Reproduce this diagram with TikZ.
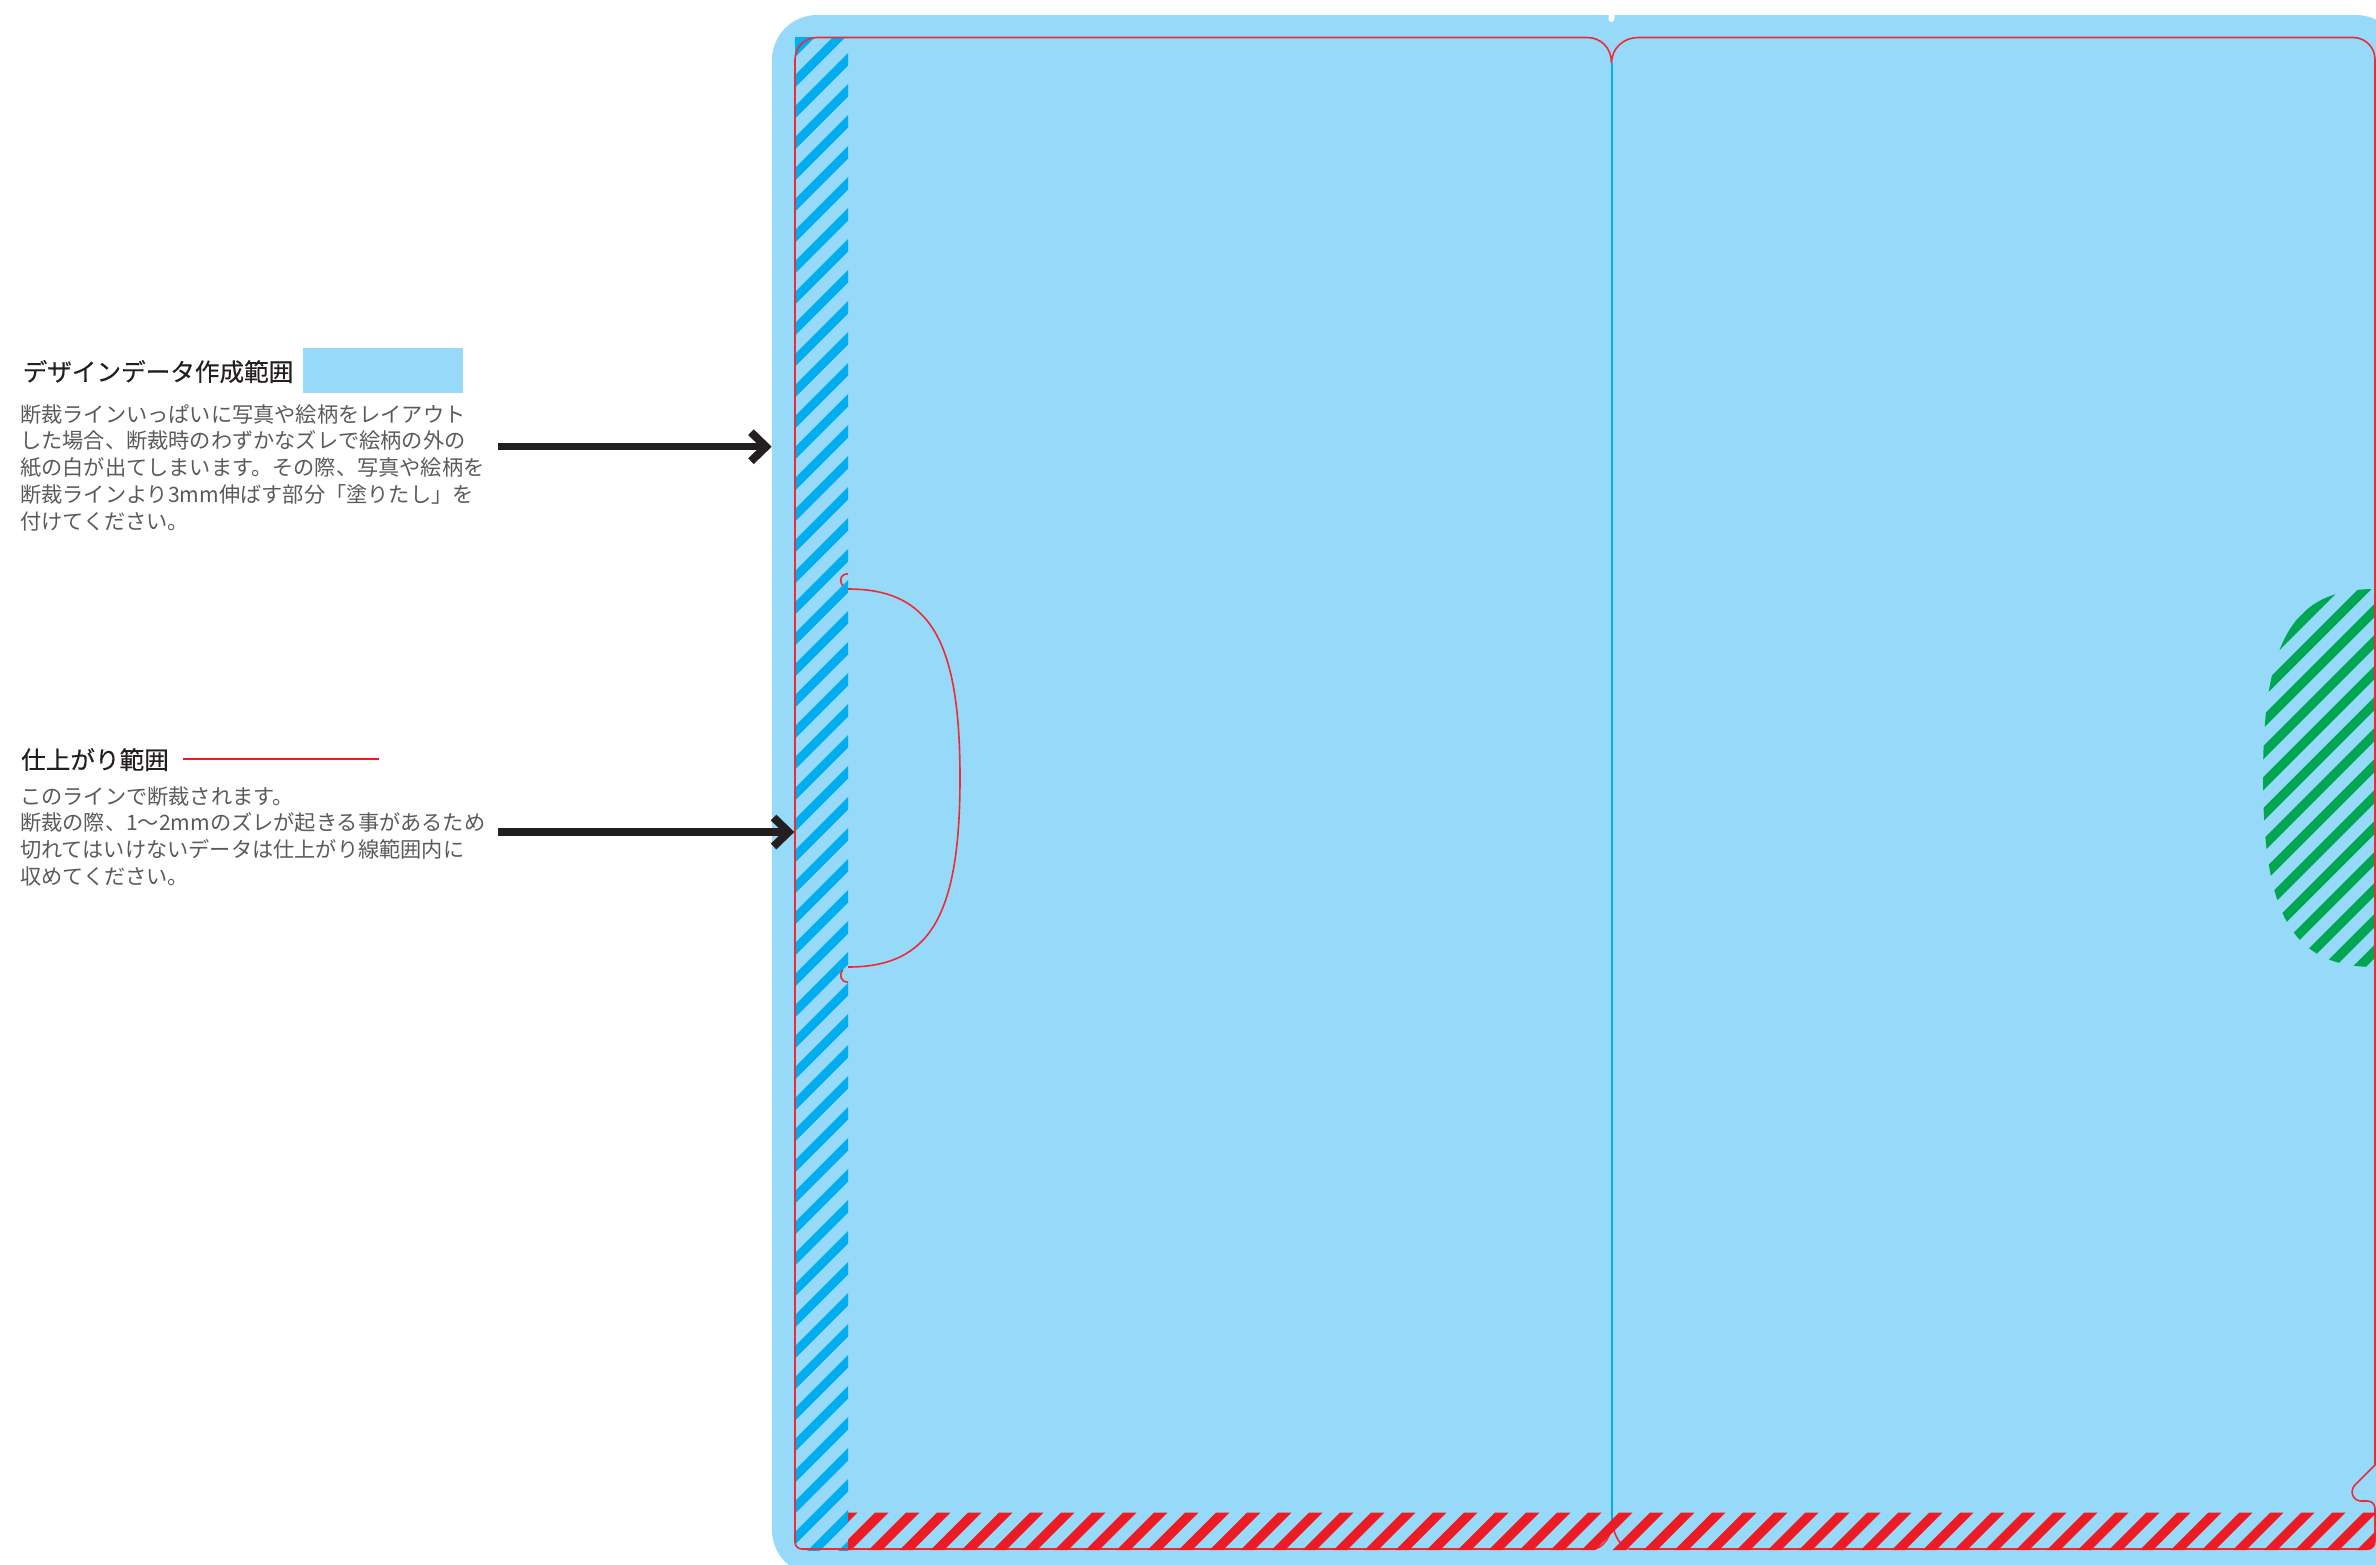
\documentclass[tikz,border=0pt]{standalone}
\usepackage{fontspec}
\usetikzlibrary{arrows.meta}
\newfontfamily\cjk{Noto Sans CJK JP}
\newfontfamily\cjkhead[FakeBold=0.3]{Noto Sans CJK JP}
\definecolor{bleedblue}{HTML}{97D9F8}
\definecolor{cutred}{HTML}{ED2B36}
\definecolor{stripered}{HTML}{ED1C24}
\definecolor{cyanline}{HTML}{00AEEF}
\definecolor{stripegreen}{HTML}{00A651}
\definecolor{inkdark}{HTML}{231F20}
\definecolor{inkbody}{HTML}{5A5A5A}
\tikzset{
  x=1pt,y=-1pt,
  headtext/.style={anchor=base west,inner sep=0pt,text=inkdark,font=\cjkhead\fontsize{24.6}{26}\selectfont},
  bodytext/.style={anchor=north west,inner sep=0pt,align=left,text=inkbody,font=\cjk\fontsize{21.2}{26.9}\selectfont},
  cutline/.style={draw=cutred,line width=1.6pt,line join=round},
  callout/.style={draw=inkdark,line width=7.2pt,-{Straight Barb[length=15pt,width=29pt,line width=8pt]}},
}
\newcommand{\stripes}[7]{% colour, s0, thickness, kmin, kmax, xa, xb
  \foreach \k in {#4,...,#5}{
    \pgfmathsetmacro{\sa}{#2+31*\k}
    \pgfmathsetmacro{\sb}{\sa+#3}
    \fill[#1] (#6,\sa-#6) -- (#7,\sa-#7) -- (#7,\sb-#7) -- (#6,\sb-#6) -- cycle;
  }}
\begin{document}
\begin{tikzpicture}
\useasboundingbox (0,0) rectangle (2376,1564);
\clip (0,0) rectangle (2376,1564);
% bleed area
\fill[bleedblue,rounded corners=45pt] (772,15) rectangle (2401,1575);
\fill[white] (1608.5,14) -- (1608.5,19) .. controls (1608.5,23) and (1614.5,23) .. (1614.5,19) -- (1614.5,14) -- cycle;
% blue hatched strip
\begin{scope}
  \clip (795,37) rectangle (848,1550);
  \fill[cyanline] (795,37) -- (815,37) -- (795,57) -- cycle;
  \stripes{cyanline}{839}{12.7}{-1}{51}{780}{860}
\end{scope}
% green hatched shape
\begin{scope}
  \clip (2375,589) .. controls (2293,589) and (2263,640) .. (2263,778)
     .. controls (2263,916) and (2293,967) .. (2375,967) -- cycle;
  \stripes{stripegreen}{2978.3}{13.4}{-5}{12}{2250}{2385}
\end{scope}
% cut line
\path[cutline] (795,59.5) .. controls (795,47) and (805,37.5) .. (817,37.5)
  -- (1587,37.5) .. controls (1601,37.5) and (1611.5,48) .. (1611.5,63)
  .. controls (1611.5,48) and (1624,37.5) .. (1638,37.5)
  -- (2353,37.5) .. controls (2365,37.5) and (2375,47) .. (2375,59.5)
  -- (2375,1465) -- (2355,1485)
  .. controls (2349,1491) and (2353,1501) .. (2361,1501)
  -- (2367,1501) .. controls (2372,1501) and (2375,1504) .. (2375,1509)
  -- (2375,1541) .. controls (2375,1546) and (2372,1549) .. (2367,1549)
  -- (1630,1549) .. controls (1622,1549) and (1613,1535) .. (1612.5,1522)
  .. controls (1612,1535) and (1603,1549) .. (1593,1549)
  -- (802,1549) .. controls (798,1549) and (795,1546) .. (795,1542) -- cycle;
% finger hole
\path[cutline] (848,589) .. controls (930,589) and (960,640) .. (960,778)
  .. controls (960,916) and (930,967) .. (848,967);
\path[cutline] (848,573.7) .. controls (842,573.7) and (838,579) .. (842.7,585.7);
\path[cutline] (842.7,970) .. controls (838,976) and (842,982.3) .. (848,982.3);
% fold line
\draw[cyanline,line width=2pt] (1611.5,63) -- (1611.5,1522);
% red hatched strip
\begin{scope}
  \clip (848,1512.7) -- (2375,1512.7) -- (2375,1541) .. controls (2375,1546) and (2372,1550) .. (2367,1550) -- (848,1550) -- cycle;
  \stripes{stripered}{2387.7}{13.3}{-1}{50}{835}{2390}
\end{scope}
% legend
\node[headtext] (headA) at (22.5,381) {デザインデータ作成範囲};
\fill[bleedblue] (303,348) rectangle (463,393);
\node[bodytext] (bodyA) at (20,404) {断裁ラインいっぱいに写真や絵柄をレイアウト\\した場合、断裁時のわずかなズレで絵柄の外の\\紙の白が出てしまいます。その際、写真や絵柄を\\断裁ラインより3mm伸ばす部分「塗りたし」を\\付けてください。};
\node[headtext] (headB) at (21,769) {仕上がり範囲};
\draw[stripered,line width=1.3pt] (183,759) -- (379,759);
\node[bodytext] (bodyB) at (20,786) {このラインで断裁されます。\\断裁の際、1〜2mmのズレが起きる事があるため\\切れてはいけないデータは仕上がり線範囲内に\\収めてください。};
% callouts
\coordinate (fromA) at (498,446.7);
\coordinate (toA) at (771.7,446.7);
\coordinate (fromB) at (498,832);
\coordinate (toB) at (794.3,832);
\draw[callout] (fromA) -- (toA);
\draw[callout] (fromB) -- (toB);
\end{tikzpicture}
\end{document}
